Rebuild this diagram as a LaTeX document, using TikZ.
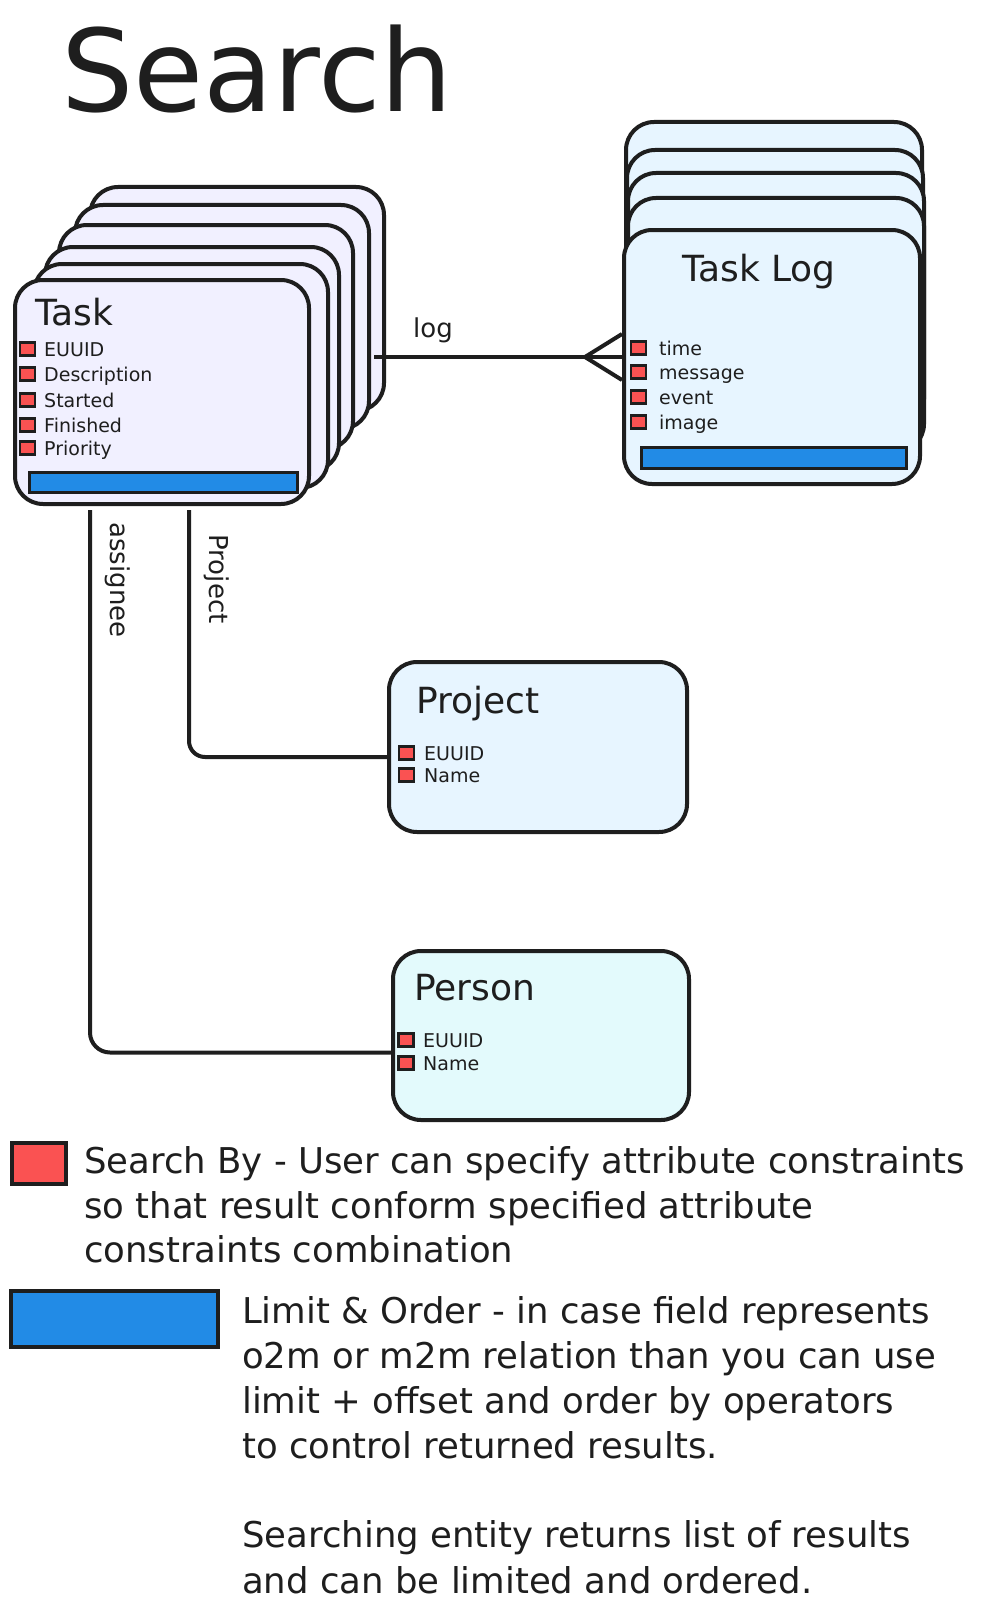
\documentclass[tikz,border=0pt]{standalone}
\usepackage{fontspec}
\setmainfont{DejaVu Sans}
\definecolor{ink}{HTML}{1E1E1E}
\definecolor{taskfill}{HTML}{F1F0FF}
\definecolor{logfill}{HTML}{E7F5FF}
\definecolor{personfill}{HTML}{E3FAFC}
\definecolor{keyred}{HTML}{FA5252}
\definecolor{keyblue}{HTML}{228BE6}

\tikzset{
  card/.style={draw=ink, line width=4pt, rounded corners=28pt, anchor=north west, inner sep=0pt},
  taskcard/.style={card, fill=taskfill, minimum width=294pt, minimum height=224pt},
  logcard/.style={card, fill=logfill, minimum width=296pt, minimum height=254pt},
  sqr/.style={draw=ink, fill=keyred, line width=2.8pt, minimum width=15pt, minimum height=13pt, inner sep=0pt},
  fld/.style={anchor=base west, inner sep=0pt, text=ink, font=\fontsize{19}{19}\selectfont},
  ttl/.style={anchor=base west, inner sep=0pt, text=ink, font=\fontsize{36}{36}\selectfont},
  bar/.style={draw=ink, fill=keyblue, line width=3.2pt, anchor=north west, inner sep=0pt},
  rel/.style={draw=ink, line width=4pt},
  lbl/.style={inner sep=0pt, text=ink, font=\fontsize{26}{26}\selectfont},
  note/.style={anchor=base west, inner sep=0pt, text=ink, font=\fontsize{35.5}{45}\selectfont},
}

\begin{document}
\begin{tikzpicture}[x=1pt, y=-1pt]
  \useasboundingbox (0,0) rectangle (994,1616);
  \fill[white] (0,0) rectangle (994,1616);

  % heading
  \node[anchor=base west, inner sep=0pt, text=ink, font=\fontsize{114}{114}\selectfont] (title) at (61,112) {Search};

  % Task stack (back to front)
  \node[taskcard] (tk6) at (88,185) {};
  \node[taskcard] (tk5) at (73,203) {};
  \node[taskcard] (tk4) at (57,223) {};
  \node[taskcard] (tk3) at (43,245) {};
  \node[taskcard] (tk2) at (32,262) {};
  \node[taskcard] (tk) at (13,278) {};
  \node[ttl] (tkt) at (35,325) {Task};
  \node[sqr] (tks1) at (27.5,349) {};
  \node[sqr] (tks2) at (27.5,374) {};
  \node[sqr] (tks3) at (27.5,400) {};
  \node[sqr] (tks4) at (27.5,425) {};
  \node[sqr] (tks5) at (27.5,448) {};
  \node[fld] (tkf1) at (44,356) {EUUID};
  \node[fld] (tkf2) at (44,381) {Description};
  \node[fld] (tkf3) at (44,407) {Started};
  \node[fld] (tkf4) at (44,432) {Finished};
  \node[fld] (tkf5) at (44,455) {Priority};
  \node[bar, minimum width=268pt, minimum height=20pt] (tkbar) at (28,471) {};

  % Task Log stack (back to front)
  \node[logcard] (tl4) at (624,120) {};
  \node[logcard] (tl3) at (625,148) {};
  \node[logcard] (tl2) at (626,171) {};
  \node[logcard] (tl1) at (626,196) {};
  \node[logcard] (tl) at (622,228) {};
  \node[ttl] (tlt) at (682,281) {Task Log};
  \node[sqr] (tls1) at (638.5,348) {};
  \node[sqr] (tls2) at (638.5,372) {};
  \node[sqr] (tls3) at (638.5,397) {};
  \node[sqr] (tls4) at (638.5,422) {};
  \node[fld] (tlf1) at (659,355) {time};
  \node[fld] (tlf2) at (659,379) {message};
  \node[fld] (tlf3) at (659,404) {event};
  \node[fld] (tlf4) at (659,429) {image};
  \node[bar, minimum width=265pt, minimum height=21pt] (tlbar) at (640,446) {};

  % Project
  \node[card, fill=logfill, minimum width=298pt, minimum height=170pt] (pj) at (387,660) {};
  \node[ttl] (pjt) at (416,713) {Project};
  \node[sqr] (pjs1) at (406.5,753) {};
  \node[sqr] (pjs2) at (406.5,775) {};
  \node[fld] (pjf1) at (424,760) {EUUID};
  \node[fld] (pjf2) at (424,782) {Name};

  % Person
  \node[card, fill=personfill, minimum width=296pt, minimum height=169pt] (ps) at (391,949) {};
  \node[ttl] (pst) at (414,1000) {Person};
  \node[sqr] (pss1) at (406,1040) {};
  \node[sqr] (pss2) at (406,1063) {};
  \node[fld] (psf1) at (423,1047) {EUUID};
  \node[fld] (psf2) at (423,1070) {Name};

  % relation: log (one to many)
  \path (tk6.east |- tl.west) coordinate (logstart);
  \draw[rel] ([xshift=-12pt]logstart) -- (tl.west);
  \draw[rel] ([xshift=-37pt]tl.west) -- ([yshift=23pt]tl.west);
  \draw[rel] ([xshift=-37pt]tl.west) -- ([yshift=-23pt]tl.west);
  \node[lbl, anchor=base] (llog) at (433,337) {log};

  % relation: Project
  \draw[rel, rounded corners=16pt] ([xshift=27pt,yshift=-4pt]tk.south) |- ([yshift=-10pt]pj.west);
  \node[lbl, rotate=-90] (lpj) at (217,579) {Project};

  % relation: assignee
  \draw[rel, rounded corners=20pt] ([xshift=-72pt,yshift=-4pt]tk.south) |- ([yshift=-17pt]ps.west);
  \node[lbl, rotate=-90] (lasg) at (118,580) {assignee};

  % legend
  \draw[ink, fill=keyred, line width=4pt] (12,1143) rectangle (66,1184);
  \node[note] (n1) at (84,1173) {Search By - User can specify attribute constraints};
  \node[note] (n2) at (84,1218) {so that result conform specified attribute};
  \node[note] (n3) at (84,1262) {constraints combination};

  \draw[ink, fill=keyblue, line width=4pt] (11,1291) rectangle (218,1347);
  \node[note] (m1) at (242,1323) {Limit \& Order - in case field represents};
  \node[note] (m2) at (242,1368) {o2m or m2m relation than you can use};
  \node[note] (m3) at (242,1413) {limit + offset and order by operators};
  \node[note] (m4) at (242,1458) {to control returned results.};
  \node[note] (m5) at (242,1547) {Searching entity returns list of results};
  \node[note] (m6) at (242,1593) {and can be limited and ordered.};
\end{tikzpicture}
\end{document}
